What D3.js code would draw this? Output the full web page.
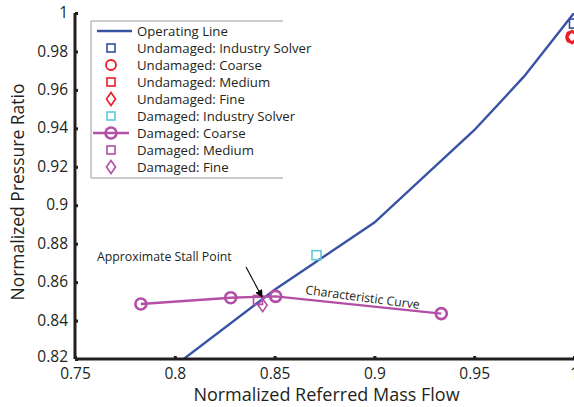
<!DOCTYPE html>
<html>
<head>
<meta charset="utf-8">
<script src="https://cdn.jsdelivr.net/npm/d3@7"></script>
<style>
  body { margin: 0; background: #fff; }
  svg text { font-family: "Open Sans", "Noto Sans", sans-serif; fill: #231f20; }
</style>
</head>
<body>
<div id="chart"></div>
<script>
/* CONSTANTS */
const width = 574, height = 407,
  margin = { top: 13, bottom: 48, left: 75, right: 0 };

/* DATA */
const xTicks = [0.75, 0.8, 0.85, 0.9, 0.95, 1];
const yTicks = [0.82, 0.84, 0.86, 0.88, 0.9, 0.92, 0.94, 0.96, 0.98, 1];

const operatingX = [0.8, 0.85, 0.9, 0.95, 0.975, 1.0];
const operatingY = [0.8165, 0.856, 0.891, 0.939, 0.967, 1.0];

const dmgCoarseX = [0.783, 0.828, 0.8505, 0.9335];
const dmgCoarseY = [0.8486, 0.8519, 0.8526, 0.8436];

const dmgMedium = [0.8417, 0.8507];
const dmgFine = [0.844, 0.848];
const dmgIndustry = [0.871, 0.874];

const undIndustry = [1.0, 0.9945];
const undCoarse = [0.999, 0.9875];
const undMedium = [0.999, 0.9875];
const undFine = [0.999, 0.9875];

const legendLabels = [
  "Operating Line", "Undamaged: Industry Solver", "Undamaged: Coarse",
  "Undamaged: Medium", "Undamaged: Fine", "Damaged: Industry Solver",
  "Damaged: Coarse", "Damaged: Medium", "Damaged: Fine"
];

const blue = "#3853a4", red = "#ed1c24", purple = "#b54ea6", cyan = "#5fc9da";

/* SCALES */
const xScale = d3.scaleLinear().domain([0.75, 1]).range([margin.left, width - margin.right]);
const yScale = d3.scaleLinear().domain([0.82, 1]).range([height - margin.bottom, margin.top]);

const svg = d3.select("#chart").append("svg")
  .attr("width", width).attr("height", height);

svg.append("clipPath").attr("id", "plot")
  .append("rect")
  .attr("x", margin.left).attr("y", margin.top)
  .attr("width", width - margin.left).attr("height", height - margin.bottom - margin.top);

// marker helpers
function square(g, x, y, s, color) {
  g.append("rect").attr("x", x - s).attr("y", y - s).attr("width", 2 * s).attr("height", 2 * s)
    .attr("fill", "none").attr("stroke", color).attr("stroke-width", 1.6);
}
function circle(g, x, y, r, color, w) {
  g.append("circle").attr("cx", x).attr("cy", y).attr("r", r)
    .attr("fill", "none").attr("stroke", color).attr("stroke-width", w || 2.2);
}
function diamond(g, x, y, s, color) {
  g.append("path").attr("d", `M${x},${y - s}L${x + s * 0.7},${y}L${x},${y + s}L${x - s * 0.7},${y}Z`)
    .attr("fill", "none").attr("stroke", color).attr("stroke-width", 1.6);
}

/* PLOT */
const plot = svg.append("g").attr("clip-path", "url(#plot)");

const line = d3.line().x(d => xScale(d[0])).y(d => yScale(d[1]));

plot.append("path")
  .datum(operatingX.map((x, i) => [x, operatingY[i]]))
  .attr("d", line)
  .attr("fill", "none").attr("stroke", blue).attr("stroke-width", 2.4);

const coarse = dmgCoarseX.map((x, i) => [x, dmgCoarseY[i]]);
plot.append("path").datum(coarse).attr("d", line)
  .attr("fill", "none").attr("stroke", purple).attr("stroke-width", 2.4);
coarse.forEach(d => circle(plot, xScale(d[0]), yScale(d[1]), 5.5, purple, 2.6));

square(plot, xScale(dmgMedium[0]), yScale(dmgMedium[1]), 4.5, purple);
diamond(plot, xScale(dmgFine[0]), yScale(dmgFine[1]), 6.5, purple);
square(plot, xScale(dmgIndustry[0]), yScale(dmgIndustry[1]), 4.5, cyan);

square(plot, xScale(undIndustry[0]), yScale(undIndustry[1]), 4.5, "#2e4fa3");
square(plot, xScale(undMedium[0]), yScale(undMedium[1]), 4.5, red);
diamond(plot, xScale(undFine[0]), yScale(undFine[1]), 6.5, red);
circle(plot, xScale(undCoarse[0]), yScale(undCoarse[1]), 5.5, red, 2.6);

/* AXES */
const xAxis = d3.axisBottom(xScale).tickValues(xTicks).tickSize(-3).tickPadding(11)
  .tickFormat(d => d3.format("")(+d.toFixed(2)));
const yAxis = d3.axisLeft(yScale).tickValues(yTicks).tickSize(-3).tickPadding(7)
  .tickFormat(d => d3.format("")(+d.toFixed(2)));

const gx = svg.append("g").attr("transform", `translate(0,${height - margin.bottom})`).call(xAxis);
const gy = svg.append("g").attr("transform", `translate(${margin.left},0)`).call(yAxis);

[gx, gy].forEach(g => {
  g.select(".domain").attr("stroke", "#231f20").attr("stroke-width", 3).attr("d",
    g === gx ? `M${margin.left},0H${width}` : `M0,${margin.top}V${height - margin.bottom}`);
  g.selectAll(".tick line").attr("stroke", "#231f20").attr("stroke-width", 3);
  g.selectAll(".tick text").attr("font-size", 15.5).style("font-family", "'Open Sans', sans-serif").attr("fill", "#231f20");
});
gx.selectAll(".tick text").attr("dy", "0.55em");
gy.selectAll(".tick text").attr("dy", d => d === 0.82 ? "0.15em" : "0.3em");

svg.append("text")
  .attr("x", (margin.left + width) / 2 + 2).attr("y", 401)
  .attr("text-anchor", "middle").attr("font-size", 18)
  .text("Normalized Referred Mass Flow");

svg.append("text")
  .attr("transform", `translate(24,${(margin.top + height - margin.bottom) / 2 + 6}) rotate(-90)`)
  .attr("text-anchor", "middle").attr("font-size", 17.5)
  .text("Normalized Pressure Ratio");

/* ANNOTATIONS */
svg.append("text").attr("x", 97).attr("y", 261).attr("font-size", 12.3)
  .text("Approximate Stall Point");

svg.append("defs").append("marker").attr("id", "arrow")
  .attr("viewBox", "0 0 10 10").attr("refX", 9).attr("refY", 5)
  .attr("markerWidth", 7).attr("markerHeight", 7).attr("orient", "auto")
  .append("path").attr("d", "M0,0L10,5L0,10Z").attr("fill", "#000");

svg.append("line")
  .attr("x1", 246).attr("y1", 267)
  .attr("x2", xScale(dmgMedium[0]) + 4).attr("y2", yScale(dmgMedium[1]) - 3)
  .attr("stroke", "#000").attr("stroke-width", 1.1).attr("marker-end", "url(#arrow)");

svg.append("text")
  .attr("transform", `translate(305,294) rotate(7.5)`)
  .attr("font-size", 12.3)
  .text("Characteristic Curve");

/* LEGEND */
const lg = svg.append("g");
lg.append("rect").attr("x", 91.5).attr("y", 21.5).attr("width", 191).attr("height", 156)
  .attr("fill", "#fff").attr("stroke", "none");
lg.append("path").attr("d", "M283,21H91V178H283")
  .attr("fill", "none").attr("stroke", "#9a9a9a").attr("stroke-width", 1);

const rowY = i => 31 + i * 17;
const sx = 111;
legendLabels.forEach((t, i) => {
  lg.append("text").attr("x", 137).attr("y", rowY(i)).attr("dy", "0.35em")
    .attr("font-size", 13.2).text(t);
});
lg.append("line").attr("x1", 97).attr("x2", 132).attr("y1", rowY(0)).attr("y2", rowY(0))
  .attr("stroke", blue).attr("stroke-width", 2.4);
square(lg, sx, rowY(1), 4, "#2e4fa3");
circle(lg, sx, rowY(2), 5, red, 1.8);
square(lg, sx, rowY(3), 4, red);
diamond(lg, sx, rowY(4), 6.5, red);
square(lg, sx, rowY(5), 4, cyan);
lg.append("line").attr("x1", 93).attr("x2", 129).attr("y1", rowY(6)).attr("y2", rowY(6))
  .attr("stroke", purple).attr("stroke-width", 2.4);
circle(lg, sx, rowY(6), 5.5, purple, 2.6);
square(lg, sx, rowY(7), 4, purple);
diamond(lg, sx, rowY(8), 6.5, purple);
</script>
</body>
</html>
